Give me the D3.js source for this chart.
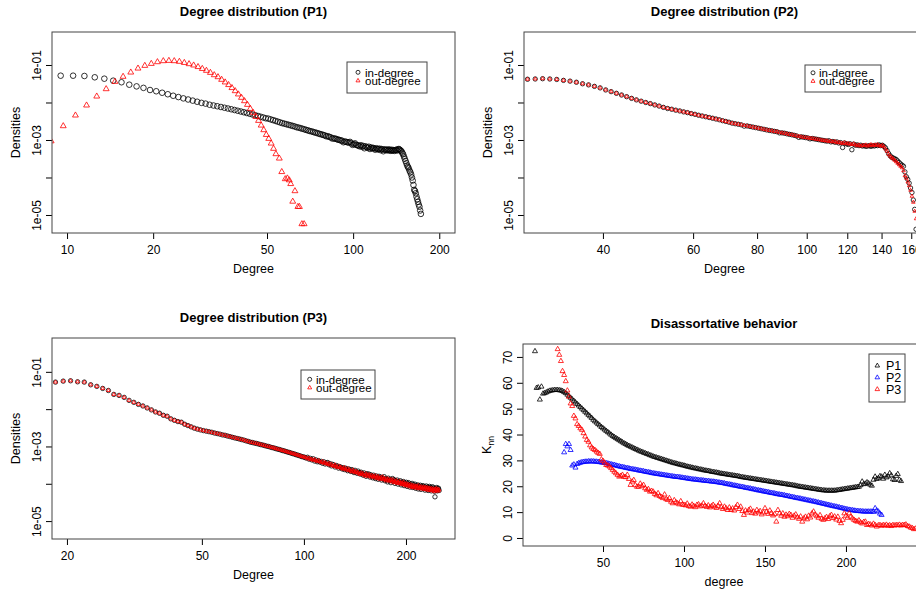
<!DOCTYPE html>
<html>
<head>
<meta charset="utf-8">
<script src="https://cdn.jsdelivr.net/npm/d3@7"></script>
<style>
  body { margin: 0; background: #fff; }
  svg { display: block; font-family: "Liberation Sans", Arial, Helvetica, sans-serif; }
</style>
</head>
<body>
<div id="chart"></div>
<script>
// ---------- data ----------
// degree distributions: log10 of density, one value per degree, first degree given
const p1InStart = 9.5;
const p1InLog = [
  -1.285, -1.285, -1.293, -1.328, -1.365, -1.418, -1.46, -1.525, -1.57, -1.61, -1.667, -1.70, -1.74, -1.78, -1.82,
  -1.855, -1.89, -1.92, -1.95, -1.98, -2.01, -2.03, -2.06, -2.08, -2.10, -2.12, -2.14, -2.16, -2.18, -2.20, -2.22,
  -2.24, -2.26, -2.28, -2.30, -2.32, -2.34, -2.36, -2.38, -2.40, -2.42, -2.43, -2.45, -2.47, -2.49, -2.51, -2.53, -2.55,
  -2.565, -2.58, -2.595, -2.61, -2.625, -2.64, -2.66, -2.67, -2.685, -2.70, -2.715, -2.73, -2.745, -2.76, -2.77, -2.785,
  -2.80, -2.81, -2.825, -2.84, -2.85, -2.865, -2.875, -2.90, -2.90, -2.915, -2.93, -2.96, -2.955, -2.965, -2.975, -2.99,
  -3.00, -3.01, -3.02, -3.06, -3.04, -3.05, -3.06, -3.07, -3.05, -3.09, -3.13, -3.11, -3.09, -3.13, -3.14,
  -3.15, -3.17, -3.14, -3.18, -3.16, -3.22, -3.17, -3.19, -3.21, -3.18, -3.24, -3.20, -3.22, -3.21, -3.23, -3.26,
  -3.22, -3.24, -3.25, -3.23, -3.27, -3.24, -3.25, -3.30, -3.26, -3.25, -3.27, -3.26, -3.28, -3.25, -3.27, -3.29,
  -3.26, -3.28, -3.27, -3.29, -3.27, -3.26, -3.28, -3.25, -3.24, -3.26, -3.28, -3.30, -3.34, -3.38, -3.44, -3.50,
  -3.56, -3.62, -3.68, -3.72, -3.76, -3.82, -3.86, -3.92, -4.00, -4.08, -4.20, -4.33, -4.36, -4.42, -4.51, -4.58,
  -4.65, -4.72, -4.78, -4.88, -4.97
];
// out-degree of P1 is sparse in the tail: [degree, log10 density]
const p1Out = [
  [8.8, -3.03], [9.7, -2.627], [10.7, -2.342], [11.7, -2.075], [12.7, -1.836], [13.7, -1.64], [14.7, -1.445],
  [15.7, -1.31], [16.7, -1.196], [17.7, -1.09], [18.7, -1.018], [19.7, -0.965], [20.7, -0.92], [21.7, -0.893],
  [22.7, -0.885], [23.7, -0.893], [24.7, -0.91], [25.7, -0.94], [26.7, -0.973], [27.7, -1.008], [28.7, -1.05],
  [29.7, -1.10], [30.7, -1.15], [31.7, -1.205], [32.7, -1.267], [33.7, -1.32], [34.7, -1.39], [35.7, -1.46],
  [36.7, -1.53], [37.7, -1.61], [38.7, -1.693], [39.7, -1.78], [40.7, -1.87], [41.7, -1.96], [42.7, -2.058],
  [43.7, -2.165], [44.7, -2.27], [45.7, -2.38], [46.7, -2.485], [47.7, -2.61], [48.7, -2.733], [49.7, -2.86],
  [50.7, -2.965], [51.7, -3.09], [52.7, -3.23], [53.7, -3.373], [55.2, -3.49], [56.3, -3.85], [57.9, -4.04],
  [58.9, -4.02], [59.8, -4.07], [60.5, -4.17], [61.5, -4.64], [62.6, -4.36], [64.1, -4.78], [64.9, -4.78],
  [66.2, -5.24], [67.4, -5.24]
];

const p2Start = 28.5;
const p2InLog = [
  -1.38, -1.373, -1.365, -1.373, -1.385, -1.41, -1.43, -1.46, -1.50, -1.53, -1.57, -1.61,
  -1.665, -1.71, -1.755, -1.80, -1.845, -1.89, -1.93, -1.965, -2.00, -2.03, -2.065, -2.095, -2.13, -2.16,
  -2.18, -2.205, -2.225, -2.25, -2.27, -2.295, -2.315, -2.34, -2.36, -2.38, -2.40, -2.42, -2.44, -2.46,
  -2.485, -2.505, -2.525, -2.55, -2.565, -2.58, -2.595, -2.63, -2.625, -2.64, -2.655, -2.67, -2.685, -2.70,
  -2.715, -2.73, -2.745, -2.755, -2.77, -2.78, -2.81, -2.81, -2.82, -2.835, -2.85, -2.86, -2.875, -2.89,
  -2.93, -2.915, -2.925, -2.935, -2.945, -2.97, -2.96, -2.97, -2.98, -2.99, -3.00, -3.01, -3.02,
  -3.03, -3.02, -3.05, -3.04, -3.06, -3.05, -3.08, -3.07, -3.20, -3.08, -3.10, -3.12, -3.10, -3.26, -3.11,
  -3.14, -3.13, -3.15, -3.14, -3.16, -3.15, -3.17, -3.16, -3.15, -3.17, -3.15, -3.16, -3.14, -3.15, -3.13,
  -3.15, -3.14, -3.17, -3.21, -3.28, -3.36, -3.42, -3.46, -3.48, -3.50, -3.52, -3.56, -3.60, -3.64, -3.67,
  -3.70, -3.85, -3.98, -4.05, -4.15, -4.28, -4.40, -4.60, -4.85, -5.38
];
const p2OutLog = [
  -1.38, -1.373, -1.365, -1.373, -1.385, -1.41, -1.43, -1.46, -1.50, -1.53, -1.57, -1.61,
  -1.665, -1.71, -1.755, -1.80, -1.845, -1.89, -1.93, -1.965, -2.00, -2.03, -2.065, -2.095, -2.13, -2.16,
  -2.18, -2.205, -2.225, -2.25, -2.27, -2.295, -2.315, -2.34, -2.36, -2.38, -2.40, -2.42, -2.44, -2.46,
  -2.485, -2.505, -2.525, -2.55, -2.565, -2.58, -2.595, -2.61, -2.625, -2.64, -2.655, -2.67, -2.685, -2.70,
  -2.715, -2.73, -2.745, -2.755, -2.77, -2.78, -2.795, -2.81, -2.82, -2.835, -2.85, -2.86, -2.875, -2.89,
  -2.90, -2.915, -2.925, -2.935, -2.945, -2.95, -2.96, -2.97, -2.98, -2.99, -3.00, -3.01, -3.02,
  -3.02, -3.04, -3.03, -3.05, -3.04, -3.07, -3.06, -3.08, -3.09, -3.07, -3.10, -3.09, -3.11, -3.12, -3.10,
  -3.13, -3.15, -3.13, -3.16, -3.14, -3.15, -3.13, -3.16, -3.14, -3.12, -3.15, -3.13, -3.14, -3.12, -3.15,
  -3.16, -3.14, -3.18, -3.24, -3.30, -3.38, -3.43, -3.47, -3.50, -3.54, -3.58, -3.62, -3.66, -3.70, -3.74,
  -3.82, -3.95, -4.02, -4.12, -4.22, -4.34, -4.50, -4.66, -4.90, -5.10
];

const p3Start = 18.5;
const p3InLog = [
  -1.275, -1.249, -1.24, -1.267, -1.275, -1.347, -1.39, -1.445, -1.50, -1.605, -1.632, -1.685, -1.765, -1.818,
  -1.872, -1.915, -1.968, -2.02, -2.075, -2.11, -2.165, -2.19, -2.26, -2.30, -2.333, -2.35, -2.405, -2.44,
  -2.475, -2.51, -2.535, -2.555, -2.575, -2.59, -2.605, -2.62, -2.64, -2.655, -2.67, -2.69, -2.70, -2.72,
  -2.735, -2.755, -2.77, -2.785, -2.80, -2.815, -2.83, -2.85, -2.865, -2.885, -2.895, -2.91, -2.92, -2.935,
  -2.95, -2.96, -2.975, -2.99, -3.00, -3.015, -3.03, -3.04, -3.055, -3.07, -3.08, -3.095, -3.11, -3.12,
  -3.135, -3.15, -3.16, -3.175, -3.19, -3.20, -3.215, -3.23, -3.24, -3.255, -3.27, -3.28, -3.29,
  -3.31, -3.29, -3.34, -3.32, -3.36, -3.33, -3.39, -3.36, -3.41, -3.38, -3.42, -3.40, -3.45, -3.41, -3.47,
  -3.44, -3.43, -3.49, -3.46, -3.52, -3.48, -3.50, -3.55, -3.51, -3.53, -3.58, -3.54, -3.56, -3.60, -3.57,
  -3.62, -3.58, -3.61, -3.65, -3.60, -3.63, -3.67, -3.62, -3.66, -3.70, -3.64, -3.68, -3.72, -3.66, -3.70,
  -3.74, -3.69, -3.73, -3.77, -3.71, -3.75, -3.80, -3.73, -3.77, -3.74, -3.82, -3.76, -3.79, -3.84, -3.77,
  -3.81, -3.86, -3.79, -3.83, -3.88, -3.80, -3.85, -3.82, -3.90, -3.84, -3.87, -3.81, -3.92, -3.86, -3.89,
  -3.95, -3.85, -3.91, -3.88, -3.97, -3.90, -3.86, -3.94, -3.89, -3.99, -3.92, -3.95, -3.90, -4.01, -3.94,
  -3.97, -3.92, -4.03, -3.96, -3.99, -3.94, -4.05, -3.98, -4.01, -3.96, -4.07, -4.00, -3.97, -4.04, -4.09,
  -4.01, -4.05, -3.99, -4.10, -4.03, -4.07, -4.01, -4.12, -4.05, -4.08, -4.03, -4.14, -4.06, -4.09, -4.04,
  -4.15, -4.07, -4.11, -4.05, -4.13, -4.08, -4.17, -4.10, -4.06, -4.14, -4.09, -4.18, -4.11, -4.07, -4.15,
  -4.10, -4.19, -4.12, -4.08, -4.16, -4.11, -4.20, -4.35, -4.13, -4.17, -4.10, -4.19, -4.14, -4.12, -4.18
];
const p3OutLog = [
  -1.275, -1.249, -1.24, -1.267, -1.275, -1.347, -1.39, -1.445, -1.50, -1.605, -1.632, -1.685, -1.765, -1.818,
  -1.872, -1.915, -1.968, -2.02, -2.075, -2.11, -2.165, -2.19, -2.26, -2.30, -2.333, -2.35, -2.405, -2.44,
  -2.475, -2.51, -2.535, -2.555, -2.575, -2.59, -2.605, -2.62, -2.64, -2.655, -2.67, -2.69, -2.70, -2.72,
  -2.735, -2.755, -2.77, -2.785, -2.80, -2.815, -2.83, -2.85, -2.865, -2.885, -2.895, -2.91, -2.92, -2.935,
  -2.95, -2.96, -2.975, -2.99, -3.00, -3.015, -3.03, -3.04, -3.055, -3.07, -3.08, -3.095, -3.11, -3.12,
  -3.135, -3.15, -3.16, -3.175, -3.19, -3.20, -3.215, -3.23, -3.24, -3.255, -3.27, -3.28, -3.29,
  -3.30, -3.33, -3.31, -3.35, -3.34, -3.37, -3.35, -3.38, -3.40, -3.37, -3.41, -3.43, -3.40, -3.45, -3.43,
  -3.46, -3.48, -3.45, -3.50, -3.47, -3.51, -3.53, -3.49, -3.54, -3.56, -3.52, -3.57, -3.55, -3.59, -3.61,
  -3.56, -3.60, -3.63, -3.59, -3.64, -3.62, -3.66, -3.68, -3.63, -3.67, -3.70, -3.66, -3.71, -3.69, -3.73,
  -3.75, -3.70, -3.74, -3.72, -3.77, -3.79, -3.73, -3.76, -3.80, -3.75, -3.78, -3.82, -3.77, -3.81, -3.79,
  -3.84, -3.78, -3.82, -3.86, -3.80, -3.84, -3.88, -3.83, -3.86, -3.81, -3.89, -3.85, -3.88, -3.92, -3.86,
  -3.90, -3.87, -3.93, -3.91, -3.88, -3.95, -3.92, -3.89, -3.97, -3.93, -3.96, -3.91, -3.99, -3.95, -3.98,
  -3.93, -4.00, -3.97, -4.02, -3.98, -3.95, -4.03, -4.00, -4.05, -3.99, -4.02, -4.06, -4.01, -4.04, -4.08,
  -4.02, -4.06, -4.10, -4.04, -4.07, -4.11, -4.05, -4.09, -4.06, -4.12, -4.08, -4.04, -4.13, -4.09, -4.11,
  -4.07, -4.14, -4.10, -4.12, -4.08, -4.15, -4.11, -4.09, -4.16, -4.12, -4.10, -4.17, -4.13, -4.11, -4.18,
  -4.14, -4.12, -4.19, -4.15, -4.13, -4.17, -4.21, -4.14, -4.16, -4.12, -4.18, -4.15, -4.20, -4.14, -4.17
];

// average neighbour degree K_nn, one value per integer degree
const knnP1Start = 8;
const knnP1 = [
  72.2, 58.0, 58.2, 53.5, 58.5, 55.8, 56.0,
  56.3, 56.6, 56.9, 57.0, 57.1, 57.2, 57.2, 57.2, 57.1, 57.0,
  56.8, 56.4, 56.0, 55.4, 54.8, 54.2, 53.6, 53.0, 52.4, 51.8,
  51.2, 50.6, 50.0, 49.4, 48.8, 48.2, 47.6, 47.0, 46.4, 45.7,
  45.1, 44.6, 44.0, 43.5, 42.9, 42.4, 41.9, 41.4, 40.9, 40.4,
  39.9, 39.4, 39.0, 38.6, 38.2, 37.8, 37.4, 37.0, 36.6, 36.3,
  35.9, 35.6, 35.3, 35.0, 34.7, 34.4, 34.1, 33.8, 33.5, 33.3,
  33.0, 32.8, 32.5, 32.3, 32.0, 31.8, 31.5, 31.3, 31.1, 30.9,
  30.7, 30.5, 30.3, 30.1, 29.9, 29.7, 29.5, 29.3, 29.1, 28.9,
  28.8, 28.6, 28.4, 28.3, 28.1, 28.0, 27.8, 27.6, 27.5, 27.3,
  27.2, 27.0, 26.9, 26.8, 26.6, 26.5, 26.4, 26.2, 26.1, 26.0,
  25.9, 25.8, 25.6, 25.5, 25.4, 25.3, 25.2, 25.0, 24.9, 24.8,
  24.7, 24.6, 24.5, 24.4, 24.3, 24.2, 24.1, 24.0, 23.9, 23.8,
  23.6, 23.5, 23.4, 23.3, 23.2, 23.1, 23.0, 22.9, 22.8, 22.7,
  22.6, 22.5, 22.4, 22.3, 22.2, 22.1, 22.0, 21.9, 21.8, 21.7,
  21.6, 21.5, 21.4, 21.3, 21.2, 21.1, 21.0, 20.9, 20.8, 20.7,
  20.6, 20.5, 20.4, 20.3, 20.2, 20.0, 19.9, 19.8, 19.7, 19.6,
  19.5, 19.4, 19.3, 19.2, 19.1, 19.0, 18.9, 18.8, 18.7, 18.6,
  18.5, 18.4, 18.4, 18.3, 18.3, 18.3, 18.3, 18.3, 18.3, 18.4,
  18.5, 18.6, 18.7, 18.8, 18.9, 19.0, 19.1, 19.2, 19.3, 19.4,
  19.5, 19.6, 19.7, 19.8, 20.4, 21.8, 20.8, 21.0, 21.5, 21.1,
  20.6, 20.2, 22.5, 23.7, 22.8, 23.1, 23.9, 23.7, 22.9, 24.4,
  23.4, 23.8, 25.0, 24.2, 22.7, 22.4, 24.0, 24.7, 22.5, 22.0
];
const knnP2Start = 26;
const knnP2 = [
  33.1, 36.3, 35.4, 36.3, 34.0, 28.0, 28.4, 27.2, 28.6, 28.9,
  29.1, 29.3, 29.4, 29.5, 29.5, 29.6, 29.6, 29.6, 29.6, 29.5,
  29.5, 29.4, 29.3, 29.2, 29.1, 29.0, 28.9, 28.8, 28.6, 28.5,
  28.3, 28.2, 28.0, 27.8, 27.7, 27.5, 27.4, 27.3, 27.1, 27.0,
  26.9, 26.7, 26.6, 26.5, 26.4, 26.3, 26.1, 26.0, 25.9, 25.8,
  25.6, 25.5, 25.4, 25.3, 25.1, 25.0, 24.9, 24.8, 24.7, 24.6,
  24.5, 24.4, 24.3, 24.2, 24.1, 24.0, 23.9, 23.8, 23.7, 23.6,
  23.6, 23.5, 23.4, 23.3, 23.2, 23.1, 23.0, 22.9, 22.8, 22.7,
  22.6, 22.6, 22.5, 22.4, 22.3, 22.3, 22.2, 22.1, 22.0, 22.0,
  21.9, 21.8, 21.8, 21.7, 21.6, 21.5, 21.4, 21.3, 21.2, 21.1,
  20.9, 20.8, 20.7, 20.6, 20.4, 20.3, 20.2, 20.1, 19.9, 19.8,
  19.7, 19.6, 19.4, 19.3, 19.2, 19.1, 18.9, 18.8, 18.7, 18.5,
  18.4, 18.3, 18.2, 18.0, 17.9, 17.8, 17.7, 17.5, 17.4, 17.3,
  17.2, 17.0, 16.9, 16.8, 16.7, 16.6, 16.5, 16.3, 16.2, 16.1,
  15.9, 15.8, 15.7, 15.5, 15.4, 15.3, 15.2, 15.0, 14.9, 14.8,
  14.6, 14.5, 14.4, 14.2, 14.1, 14.0, 13.8, 13.7, 13.5, 13.4,
  13.2, 13.1, 12.9, 12.8, 12.6, 12.5, 12.3, 12.2, 12.1, 11.9,
  11.8, 11.6, 11.5, 11.3, 11.2, 11.0, 10.9, 10.8, 10.7, 10.6,
  10.5, 10.4, 10.4, 10.3, 10.3, 10.2, 10.2, 10.2, 10.2, 10.2,
  10.2, 10.1, 11.5, 10.6, 10.2, 9.4, 8.9
];
const knnP3Start = 22;
const knnP3 = [
  73.0, 70.8, 68.4, 64.5, 63.0, 60.6, 57.0, 54.6, 52.0, 51.0,
  47.2, 46.2, 44.0, 43.3, 42.4, 41.8, 40.5, 39.2, 37.9, 37.2,
  35.8, 35.0, 34.4, 34.0, 33.4, 32.9, 32.5, 30.4, 29.8, 29.1,
  28.2, 28.0, 27.6, 27.0, 26.3, 25.6, 25.0, 24.4, 23.7, 24.0,
  24.4, 23.6, 23.5, 24.4, 22.8, 20.5, 21.8, 22.4, 20.4, 19.8,
  19.8, 21.0, 20.0, 20.5, 19.2, 18.6, 18.9, 17.9, 18.2, 17.9,
  17.0, 16.5, 17.3, 16.2, 15.8, 15.4, 16.8, 15.0, 14.7, 15.4,
  14.0, 13.4, 14.6, 13.8, 13.4, 13.0, 14.2, 12.9, 12.8, 12.6,
  13.3, 12.3, 12.1, 12.9, 12.4, 11.9, 12.8, 13.0, 12.2, 12.5,
  13.4, 12.4, 12.0, 12.6, 11.8, 12.3, 12.8, 12.1, 11.6, 12.4,
  13.4, 11.9, 11.2, 12.1, 11.5, 10.8, 11.8, 10.8, 11.4, 10.6,
  11.9, 12.8, 11.2, 12.1, 10.4, 8.9, 10.6, 9.8, 10.8, 11.3,
  9.6, 10.2, 9.4, 10.8, 9.9, 10.4, 9.1, 9.8, 11.5, 10.1,
  9.3, 10.6, 9.6, 8.7, 9.2, 6.3, 10.8, 9.5, 8.6, 9.5,
  8.2, 9.0, 8.4, 9.3, 8.9, 7.8, 8.6, 9.1, 8.0, 7.4,
  8.3, 6.3, 7.6, 8.2, 7.2, 8.6, 7.9, 9.5, 10.2, 9.0,
  8.4, 7.8, 8.8, 7.4, 7.0, 7.6, 8.1, 7.3, 8.4, 8.9,
  7.7, 8.3, 7.1, 8.2, 6.6, 5.7, 7.0, 9.5, 8.6, 7.8,
  9.5, 8.2, 7.6, 7.0, 6.6, 6.3, 6.8, 6.0, 5.6, 6.2,
  6.3, 5.0, 5.4, 5.2, 4.8, 5.5, 5.0, 4.4, 4.9, 5.0,
  4.7, 5.0, 4.8, 5.1, 4.7, 4.9, 4.6, 5.0, 4.8, 5.0,
  4.9, 5.1, 4.8, 5.0, 5.0, 5.2, 4.6, 4.4, 4.0, 3.8,
  3.4, 3.6
];

// ticks and labels
const densTicks = [1e-1, 1e-2, 1e-3, 1e-4, 1e-5];
const densTickLabels = ["1e-01", "", "1e-03", "", "1e-05"];
const p1XTicks = [10, 20, 50, 100, 200];
const p2XTicks = [40, 60, 80, 100, 120, 140, 160];
const p3XTicks = [20, 50, 100, 200];
const knnXTicks = [50, 100, 150, 200];
const knnYTicks = [0, 10, 20, 30, 40, 50, 60, 70];
const degLegend = ["in-degree", "out-degree"];
const knnLegend = ["P1", "P2", "P3"];

// ---------- helpers ----------
const width = 916, height = 593;

const svg = d3.select("#chart")
  .append("svg")
  .attr("width", width)
  .attr("height", height);

const seq = (start, logs) => logs.map((v, i) => [start + i, Math.pow(10, v)]);
const pairs = list => list.map(d => [d[0], Math.pow(10, d[1])]);
const tri = size => d3.symbol(d3.symbolTriangle, size)();

function frame(p, x, y, xTicks, xFormat, yTicks, yFormat, xLab, yLab, title) {
  // x axis
  svg.append("g")
    .attr("transform", `translate(0,${p.bottom})`)
    .call(d3.axisBottom(x).tickValues(xTicks).tickFormat(xFormat).tickSize(6))
    .attr("font-family", null).attr("font-size", 12)
    .call(a => a.select(".domain").remove())
    .call(a => a.selectAll("text").attr("y", 20.5).attr("dy", 0).attr("fill", "#000"));

  // y axis, labels parallel to axis
  svg.append("g")
    .attr("transform", `translate(${p.left},0)`)
    .call(d3.axisLeft(y).tickValues(yTicks).tickFormat(yFormat).tickSize(6))
    .attr("font-family", null).attr("font-size", 12)
    .call(a => a.select(".domain").remove())
    .call(a => a.selectAll("text")
      .attr("x", 0).attr("y", -11).attr("dy", 0)
      .attr("text-anchor", "middle")
      .attr("transform", "rotate(-90)")
      .attr("fill", "#000"));

  // box
  svg.append("rect")
    .attr("x", p.left).attr("y", p.top)
    .attr("width", p.right - p.left).attr("height", p.bottom - p.top)
    .attr("fill", "none").attr("stroke", "#444");

  // titles
  svg.append("text")
    .attr("x", (p.left + p.right) / 2).attr("y", p.top - 16.5)
    .attr("text-anchor", "middle").attr("font-weight", "bold").attr("font-size", 13)
    .text(title);
  svg.append("text")
    .attr("x", (p.left + p.right) / 2).attr("y", p.bottom + 39.5)
    .attr("text-anchor", "middle").attr("font-size", 12.5)
    .text(xLab);
  const yl = svg.append("text")
    .attr("transform", `translate(${p.left - 32.5},${(p.top + p.bottom) / 2}) rotate(-90)`)
    .attr("text-anchor", "middle").attr("font-size", 12.5);
  if (yLab === "Knn") {
    yl.append("tspan").text("K");
    yl.append("tspan").attr("font-size", 8.5).attr("dy", 3).text("nn");
  } else {
    yl.text(yLab);
  }
}

function clipFor(id, p) {
  svg.append("clipPath").attr("id", id)
    .append("rect")
    .attr("x", p.left).attr("y", p.top)
    .attr("width", p.right - p.left).attr("height", p.bottom - p.top);
  return svg.append("g").attr("clip-path", `url(#${id})`);
}

// ---------- degree distribution panels ----------
function degreePanel(p) {
  const x = d3.scaleLog().domain(p.xDomain).range([p.left, p.right]);
  const y = d3.scaleLog().domain(p.yDomain).range([p.bottom, p.top]);

  const g = clipFor("clip-" + p.id, p);
  g.selectAll("circle")
    .data(p.inData)
    .join("circle")
    .attr("cx", d => x(d[0]))
    .attr("cy", d => y(d[1]))
    .attr("r", p.r)
    .attr("fill", "none")
    .attr("stroke", "#000")
    .attr("stroke-width", 0.8);
  g.selectAll("path")
    .data(p.outData)
    .join("path")
    .attr("transform", d => `translate(${x(d[0])},${y(d[1])})`)
    .attr("d", tri(p.tri))
    .attr("fill", "none")
    .attr("stroke", "#f00")
    .attr("stroke-width", 0.8);

  frame(p, x, y, p.xTicks, d3.format("d"), densTicks, (d, i) => densTickLabels[i],
    "Degree", "Densities", p.title);

  // legend
  const L = p.legend;
  svg.append("rect")
    .attr("x", L.x).attr("y", L.y).attr("width", L.w).attr("height", L.h)
    .attr("fill", "#fff").attr("stroke", "#444");
  const lg = svg.append("g").attr("transform", `translate(${L.x},${L.y})`);
  lg.append("circle").attr("cx", L.sx).attr("cy", L.r1).attr("r", 2)
    .attr("fill", "none").attr("stroke", "#000").attr("stroke-width", 0.8);
  lg.append("path").attr("transform", `translate(${L.sx},${L.r1 + 8.4})`)
    .attr("d", tri(7)).attr("fill", "none").attr("stroke", "#f00").attr("stroke-width", 0.8);
  lg.selectAll("text")
    .data(degLegend)
    .join("text")
    .attr("x", L.tx)
    .attr("y", (d, i) => L.r1 + 4.2 + i * 8.4)
    .attr("font-size", 11.5)
    .text(d => d);
}

degreePanel({
  id: "p1", title: "Degree distribution (P1)",
  left: 52, right: 455, top: 32, bottom: 233,
  xDomain: [8.86, 227], yDomain: [3.31e-6, 0.7586], xTicks: p1XTicks,
  inData: seq(p1InStart, p1InLog), outData: pairs(p1Out), r: 2.8, tri: 15,
  legend: { x: 347, y: 62, w: 80, h: 31, sx: 11, tx: 18, r1: 10.3 }
});
degreePanel({
  id: "p2", title: "Degree distribution (P2)",
  left: 524, right: 925, top: 32, bottom: 233,
  xDomain: [28.05, 170.2], yDomain: [3.31e-6, 0.7586], xTicks: p2XTicks,
  inData: seq(p2Start, p2InLog), outData: seq(p2Start, p2OutLog), r: 2.2, tri: 5.5,
  legend: { x: 805, y: 65, w: 76, h: 27, sx: 8, tx: 14, r1: 7.8 }
});
degreePanel({
  id: "p3", title: "Degree distribution (P3)",
  left: 52, right: 455, top: 338, bottom: 539,
  xDomain: [18.07, 279], yDomain: [3.31e-6, 0.8065], xTicks: p3XTicks,
  inData: seq(p3Start, p3InLog), outData: seq(p3Start, p3OutLog), r: 2.2, tri: 5.5,
  legend: { x: 301, y: 370, w: 74, h: 29, sx: 8.7, tx: 15, r1: 9.3 }
});

// ---------- disassortative behaviour ----------
const pk = { left: 523, right: 925, top: 344, bottom: 546 };
const kx = d3.scaleLinear().domain([0.6, 248.8]).range([pk.left, pk.right]);
const ky = d3.scaleLinear().domain([-3.1, 75]).range([pk.bottom, pk.top]);

const knnSeries = [
  { name: "P1", color: "#000", data: knnP1.map((v, i) => [knnP1Start + i, v]) },
  { name: "P2", color: "#00f", data: knnP2.map((v, i) => [knnP2Start + i, v]) },
  { name: "P3", color: "#f00", data: knnP3.map((v, i) => [knnP3Start + i, v]) }
];

const kg = clipFor("clip-knn", pk);
knnSeries.forEach(s => {
  kg.append("g")
    .selectAll("path")
    .data(s.data)
    .join("path")
    .attr("transform", d => `translate(${kx(d[0])},${ky(d[1])})`)
    .attr("d", tri(11))
    .attr("fill", "none")
    .attr("stroke", s.color)
    .attr("stroke-width", 0.8);
});

frame(pk, kx, ky, knnXTicks, d3.format("d"), knnYTicks, d3.format("d"),
  "degree", "Knn", "Disassortative behavior");

// legend
svg.append("rect")
  .attr("x", 869).attr("y", 354).attr("width", 36).attr("height", 48)
  .attr("fill", "#fff").attr("stroke", "#444");
const kl = svg.append("g").attr("transform", "translate(869,354)");
kl.selectAll("path")
  .data(knnSeries)
  .join("path")
  .attr("transform", (d, i) => `translate(8.3,${11.7 + i * 11.8})`)
  .attr("d", tri(9))
  .attr("fill", "none")
  .attr("stroke", d => d.color)
  .attr("stroke-width", 0.8);
kl.selectAll("text")
  .data(knnLegend)
  .join("text")
  .attr("x", 17)
  .attr("y", (d, i) => 16.2 + i * 11.8)
  .attr("font-size", 12.5)
  .text(d => d);
</script>
</body>
</html>
